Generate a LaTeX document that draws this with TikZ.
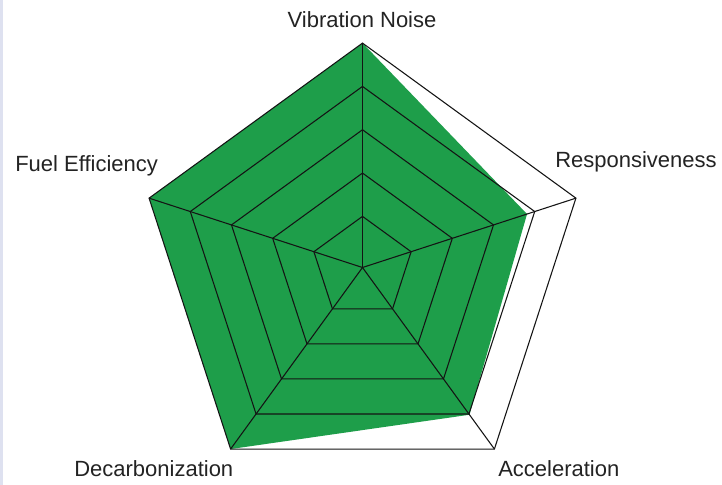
\documentclass[tikz,border=0pt]{standalone}
\usepackage{fontspec}
\setmainfont{Liberation Sans}
\definecolor{fillgreen}{RGB}{30,158,74}
\definecolor{gridline}{RGB}{20,20,20}
\definecolor{labeltext}{RGB}{35,35,35}
\definecolor{stripcol}{RGB}{222,225,240}
\begin{document}
\begin{tikzpicture}[x=0.75pt,y=-0.75pt,
  gridstyle/.style={draw=gridline, line width=0.8pt, line join=miter},
  lbl/.style={font=\fontsize{16.5}{18}\selectfont, text=labeltext, inner sep=0pt}]
\useasboundingbox (0,0) rectangle (722,485);
\fill[white] (0,0) rectangle (722,485);
\fill[stripcol] (0,0) rectangle (3,485);
\def\cx{362.5}\def\cy{267.5}
\coordinate (c) at (\cx,\cy);
\foreach \i/\a in {1/90,2/18,3/-54,4/-126,5/162} {
  \coordinate (o\i) at ({\cx+224.4*cos(\a)},{\cy-224.4*sin(\a)});
}
\foreach \i/\a/\r in {1/90/224.4,2/18/173,3/-54/182,4/-126/224.4,5/162/224.4} {
  \coordinate (d\i) at ({\cx+\r*cos(\a)},{\cy-\r*sin(\a)});
}
\fill[fillgreen] (d1) -- (d2) -- (d3) -- (d4) -- (d5) -- cycle;
\foreach \k in {1,...,5} {
  \pgfmathsetmacro\r{7.8+43.32*\k}
  \draw[gridstyle, shift={(\cx,\cy)}] (-90:\r) -- (-18:\r) -- (54:\r) -- (126:\r) -- (-162:\r) -- cycle;
}
\foreach \i in {1,...,5} { \draw[gridstyle] (c) -- (o\i); }
\node[lbl, anchor=base] (l1) at (362,28) {Vibration Noise};
\node[lbl, anchor=base west] (l2) at (555,167) {Responsiveness};
\node[lbl, anchor=base west] (l3) at (498,476.5) {Acceleration};
\node[lbl, anchor=base west] (l4) at (74,476.5) {Decarbonization};
\node[lbl, anchor=base west] (l5) at (15,171.5) {Fuel Efficiency};
\end{tikzpicture}
\end{document}
